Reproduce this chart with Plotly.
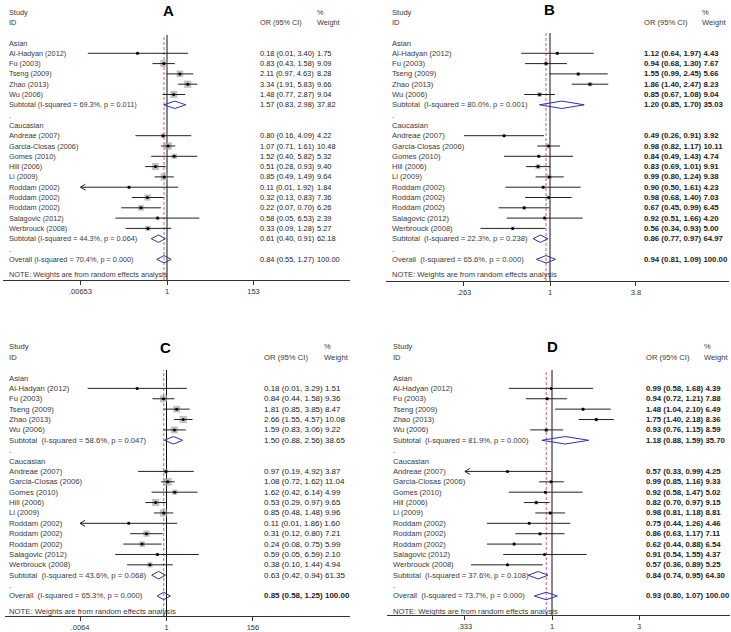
import math
import plotly.graph_objects as go

W, H = 731, 632

# ---------------- data ----------------
study_names = ["Al-Hadyan (2012)", "Fu (2003)", "Tseng (2009)", "Zhao (2013)", "Wu (2006)",
               "Andreae (2007)", "Garcia-Closas (2006)", "Gomes (2010)", "Hill (2006)", "Li (2009)",
               "Roddam (2002)", "Roddam (2002)", "Roddam (2002)", "Salagovic (2012)", "Werbrouck (2008)"]
group_names = ["Asian", "Caucasian"]
n_asian = 5

# Panel A
A_or = [0.18, 0.83, 2.11, 3.34, 1.48, 0.80, 1.07, 1.52, 0.51, 0.85, 0.11, 0.32, 0.22, 0.58, 0.33]
A_lo = [0.01, 0.43, 0.97, 1.91, 0.77, 0.16, 0.71, 0.40, 0.28, 0.49, 0.006, 0.13, 0.07, 0.05, 0.09]
A_hi = [3.40, 1.58, 4.63, 5.83, 2.87, 4.09, 1.61, 5.82, 0.93, 1.49, 1.92, 0.83, 0.70, 6.53, 1.28]
A_wt = [1.75, 9.09, 8.28, 9.66, 9.04, 4.22, 10.48, 5.32, 9.40, 9.64, 1.84, 7.36, 6.26, 2.39, 5.27]
A_sum_or = [1.57, 0.61, 0.84]
A_sum_lo = [0.83, 0.40, 0.55]
A_sum_hi = [2.98, 0.91, 1.27]
A_sum_wt = [37.82, 62.18, 100.00]
A_i2 = [69.3, 44.3, 70.4]
A_p = [0.011, 0.064, 0.000]
A_ticks = [0.00653, 1, 153]
A_ticktext = [".00653", "1", "153"]

# Panel B
B_or = [1.12, 0.94, 1.55, 1.86, 0.85, 0.49, 0.98, 0.84, 0.83, 0.99, 0.90, 0.98, 0.67, 0.92, 0.56]
B_lo = [0.64, 0.68, 0.99, 1.40, 0.67, 0.263, 0.82, 0.49, 0.69, 0.80, 0.50, 0.68, 0.45, 0.51, 0.34]
B_hi = [1.97, 1.30, 2.45, 2.47, 1.08, 0.91, 1.17, 1.43, 1.01, 1.24, 1.61, 1.40, 0.99, 1.66, 0.93]
B_wt = [4.43, 7.67, 5.66, 8.23, 9.04, 3.92, 10.11, 4.74, 9.91, 9.38, 4.23, 7.03, 6.45, 4.20, 5.00]
B_sum_or = [1.20, 0.86, 0.94]
B_sum_lo = [0.85, 0.77, 0.81]
B_sum_hi = [1.70, 0.97, 1.09]
B_sum_wt = [35.03, 64.97, 100.00]
B_i2 = [80.0, 22.3, 65.6]
B_p = [0.001, 0.238, 0.000]
B_ticks = [0.263, 1, 3.8]
B_ticktext = [".263", "1", "3.8"]

# Panel C
C_or = [0.18, 0.84, 1.81, 2.66, 1.59, 0.97, 1.08, 1.62, 0.53, 0.85, 0.11, 0.31, 0.24, 0.59, 0.38]
C_lo = [0.01, 0.44, 0.85, 1.55, 0.83, 0.19, 0.72, 0.42, 0.29, 0.48, 0.006, 0.12, 0.08, 0.05, 0.10]
C_hi = [3.29, 1.58, 3.85, 4.57, 3.06, 4.92, 1.62, 6.14, 0.97, 1.48, 1.86, 0.80, 0.75, 6.59, 1.44]
C_wt = [1.51, 9.36, 8.47, 10.08, 9.22, 3.87, 11.04, 4.99, 9.65, 9.96, 1.60, 7.21, 5.99, 2.10, 4.94]
C_sum_or = [1.50, 0.63, 0.85]
C_sum_lo = [0.88, 0.42, 0.58]
C_sum_hi = [2.56, 0.94, 1.25]
C_sum_wt = [38.65, 61.35, 100.00]
C_i2 = [58.6, 43.6, 65.3]
C_p = [0.047, 0.068, 0.000]
C_ticks = [0.0064, 1, 156]
C_ticktext = [".0064", "1", "156"]

# Panel D
D_or = [0.99, 0.94, 1.48, 1.75, 0.93, 0.57, 0.99, 0.92, 0.82, 0.98, 0.75, 0.86, 0.62, 0.91, 0.57]
D_lo = [0.58, 0.72, 1.04, 1.40, 0.76, 0.33, 0.85, 0.58, 0.70, 0.81, 0.44, 0.63, 0.44, 0.54, 0.36]
D_hi = [1.68, 1.21, 2.10, 2.18, 1.15, 0.99, 1.16, 1.47, 0.97, 1.18, 1.26, 1.17, 0.88, 1.55, 0.89]
D_wt = [4.39, 7.88, 6.49, 8.36, 8.59, 4.25, 9.33, 5.02, 9.15, 8.81, 4.46, 7.11, 6.54, 4.37, 5.25]
D_sum_or = [1.18, 0.84, 0.93]
D_sum_lo = [0.88, 0.74, 0.80]
D_sum_hi = [1.59, 0.95, 1.07]
D_sum_wt = [35.70, 64.30, 100.00]
D_i2 = [81.9, 37.6, 73.7]
D_p = [0.000, 0.108, 0.000]
D_ticks = [0.333, 1, 3]
D_ticktext = [".333", "1", "3"]

note_text = "NOTE: Weights are from random effects analysis"

# ---------------- layout / style constants (pixels) ----------------
panels = [
    dict(name="A", orr=A_or, lo=A_lo, hi=A_hi, wt=A_wt, s_or=A_sum_or, s_lo=A_sum_lo, s_hi=A_sum_hi,
         s_wt=A_sum_wt, i2=A_i2, p=A_p, ticks=A_ticks, ticktext=A_ticktext,
         x0=3, x1=350, cpx=167, ppd=39.6, row0=43, step=10.3, top=35, bottom=280,
         lab_x=7, val_x=258, wt_x=315, let_x=168, let_y=11, box_k=2.3,
         bold=False, sep_w=True, dsp=False, lab_fs=7.3, val_fs=7.4),
    dict(name="B", orr=B_or, lo=B_lo, hi=B_hi, wt=B_wt, s_or=B_sum_or, s_lo=B_sum_lo, s_hi=B_sum_hi,
         s_wt=B_sum_wt, i2=B_i2, p=B_p, ticks=B_ticks, ticktext=B_ticktext,
         x0=386, x1=729, cpx=550, ppd=148.3, row0=43, step=10.3, top=33, bottom=281,
         lab_x=390, val_x=642, wt_x=700, let_x=549, let_y=10, box_k=1.6,
         bold=True, sep_w=False, dsp=True, lab_fs=7.6, val_fs=7.8),
    dict(name="C", orr=C_or, lo=C_lo, hi=C_hi, wt=C_wt, s_or=C_sum_or, s_lo=C_sum_lo, s_hi=C_sum_hi,
         s_wt=C_sum_wt, i2=C_i2, p=C_p, ticks=C_ticks, ticktext=C_ticktext,
         x0=5, x1=350, cpx=166.5, ppd=39.4, row0=378, step=10.38, top=370, bottom=616,
         lab_x=7, val_x=262, wt_x=322, let_x=165, let_y=347, box_k=2.3,
         bold=False, sep_w=False, dsp=True, lab_fs=7.7, val_fs=8.0),
    dict(name="D", orr=D_or, lo=D_lo, hi=D_hi, wt=D_wt, s_or=D_sum_or, s_lo=D_sum_lo, s_hi=D_sum_hi,
         s_wt=D_sum_wt, i2=D_i2, p=D_p, ticks=D_ticks, ticktext=D_ticktext,
         x0=387, x1=730, cpx=552, ppd=182.4, row0=378, step=10.38, top=370, bottom=615,
         lab_x=391, val_x=644, wt_x=702, let_x=552, let_y=346, box_k=1.3,
         bold=True, sep_w=False, dsp=True, lab_fs=7.6, val_fs=7.8),
]

FONT = "Liberation Sans, Arial, sans-serif"
LAB_COL = "#3a3a3a"
VAL_COL = "#222222"
CI_COL = "#222222"
BOX_COL = "#a6a6a6"
DIA_COL = "#3030b0"
RED_COL = "#d0607a"

# row indices
study_rows = list(range(1, 1 + n_asian)) + list(range(9, 9 + len(study_names) - n_asian))
header_rows = [0, 8]
sum_rows = [6, 19, 21]
dot_rows = [7, 20]

fig = go.Figure()
annotations = []
shapes = []
layout_axes = {}

for i, P in enumerate(panels):
    sfx = "" if i == 0 else str(i + 1)
    xa, ya = "x" + sfx, "y" + sfx
    ppd, cpx = P["ppd"], P["cpx"]
    xr = [(P["x0"] - cpx) / ppd, (P["x1"] - cpx) / ppd]
    yr = [(P["bottom"] - P["row0"]) / P["step"], (P["top"] - P["row0"]) / P["step"]]
    layout_axes["xaxis" + sfx] = dict(
        type="log", range=xr, domain=[P["x0"] / W, P["x1"] / W], anchor=ya,
        showline=True, linecolor="#333", linewidth=1, ticks="outside", ticklen=4,
        tickcolor="#333", tickvals=P["ticks"], ticktext=P["ticktext"],
        tickfont=dict(family=FONT, size=7.5, color="#333"), showgrid=False, zeroline=False,
        fixedrange=True)
    layout_axes["yaxis" + sfx] = dict(
        range=yr, domain=[1 - P["bottom"] / H, 1 - P["top"] / H], anchor=xa,
        visible=False, fixedrange=True)

    tmin, tmax = P["ticks"][0], P["ticks"][-1]
    lmin = math.log10(tmin)
    arm = 5.0 / ppd
    hh = 3.0 / P["step"]

    # boxes
    fig.add_trace(go.Scatter(
        x=P["orr"], y=study_rows, mode="markers", xaxis=xa, yaxis=ya, hoverinfo="skip",
        marker=dict(symbol="square", size=[P["box_k"] * math.sqrt(w) for w in P["wt"]],
                    color=BOX_COL, line=dict(width=0)), showlegend=False))
    # CI lines
    lx, ly = [], []
    for o, lo, hi, r in zip(P["orr"], P["lo"], P["hi"], study_rows):
        lo_d = max(lo, tmin)
        hi_d = min(hi, tmax)
        lx += [lo_d, hi_d, None]
        ly += [r, r, None]
        if lo < tmin:
            a = 10 ** (lmin + arm)
            lx += [a, tmin, a, None]
            ly += [r - hh, r, r + hh, None]
    fig.add_trace(go.Scatter(x=lx, y=ly, mode="lines", xaxis=xa, yaxis=ya, hoverinfo="skip",
                             line=dict(color=CI_COL, width=1), showlegend=False))
    # point dots
    fig.add_trace(go.Scatter(
        x=P["orr"], y=study_rows, mode="markers", xaxis=xa, yaxis=ya, hoverinfo="skip",
        marker=dict(symbol="circle", size=3, color="black"), showlegend=False))
    # diamonds
    dx, dy = [], []
    for o, lo, hi, r in zip(P["s_or"], P["s_lo"], P["s_hi"], sum_rows):
        dx += [lo, o, hi, o, lo, None]
        dy += [r, r - 0.36, r, r + 0.36, r, None]
    fig.add_trace(go.Scatter(x=dx, y=dy, mode="lines", xaxis=xa, yaxis=ya, hoverinfo="skip",
                             line=dict(color=DIA_COL, width=1), showlegend=False))

    # vertical lines
    shapes.append(dict(type="line", xref=xa, yref=ya + " domain", x0=1, x1=1, y0=0, y1=1,
                       line=dict(color="#111", width=1), layer="below"))
    shapes.append(dict(type="line", xref=xa, yref=ya + " domain", x0=P["s_or"][2], x1=P["s_or"][2],
                       y0=0, y1=1, line=dict(color=RED_COL, width=1, dash="3px,2px"), layer="below"))

    def lab(text, px, row, size, color=LAB_COL, bold=False, P=P):
        t = "<b>" + text + "</b>" if bold else text
        py = P["row0"] + P["step"] * row
        annotations.append(dict(text=t, x=px / W, xref="paper", y=1 - py / H, yref="paper",
                                xanchor="left", yanchor="middle", showarrow=False,
                                font=dict(family=FONT, size=size, color=color)))

    lf, vf = P["lab_fs"], P["val_fs"]
    # headers
    lab("Study", P["lab_x"], -3, lf)
    lab("ID", P["lab_x"], -2, lf)
    lab("OR (95% CI)", P["val_x"], -2, lf)
    lab("%", P["wt_x"], -3, lf)
    lab("Weight", P["wt_x"], -2, lf)
    # letter
    annotations.append(dict(text="<b>" + P["name"] + "</b>", x=P["let_x"] / W, xref="paper",
                            y=1 - P["let_y"] / H, yref="paper", xanchor="center", yanchor="middle",
                            showarrow=False, font=dict(family=FONT, size=15, color="black")))
    # group headers and dots
    for g, r in zip(group_names, header_rows):
        lab(g, P["lab_x"], r, lf)
    for r in dot_rows:
        lab(".", P["lab_x"], r, lf)
    # study rows
    for name, o, lo, hi, w, r in zip(study_names, P["orr"], P["lo"], P["hi"], P["wt"], study_rows):
        lab(name, P["lab_x"], r, lf)
        ci = f"{o:.2f} ({lo:.2f}, {hi:.2f})"
        if P["sep_w"]:
            lab(ci, P["val_x"], r, vf, VAL_COL)
            lab(f"{w:.2f}", P["wt_x"], r, vf, VAL_COL)
        else:
            lab(f"{ci} {w:.2f}", P["val_x"], r, vf, VAL_COL, P["bold"])
    # summary rows
    sp = "\u00a0 " if P["dsp"] else " "
    sum_titles = ["Subtotal", "Subtotal", "Overall"]
    for k, (t, o, lo, hi, w, i2, p, r) in enumerate(zip(sum_titles, P["s_or"], P["s_lo"], P["s_hi"],
                                                        P["s_wt"], P["i2"], P["p"], sum_rows)):
        lab(f"{t}{sp}(I-squared = {i2:.1f}%, p = {p:.3f})", P["lab_x"], r, lf)
        ci = f"{o:.2f} ({lo:.2f}, {hi:.2f})"
        is_bold = P["bold"] or (k == 2 and P["name"] == "C")
        if P["sep_w"]:
            lab(ci, P["val_x"], r, vf, VAL_COL)
            lab(f"{w:.2f}", P["wt_x"], r, vf, VAL_COL)
        else:
            lab(f"{ci} {w:.2f}", P["val_x"], r, vf, VAL_COL, is_bold)
    # note
    lab(note_text, P["lab_x"], 22.5, lf)

fig.update_layout(
    width=W, height=H, autosize=False,
    margin=dict(l=0, r=0, t=0, b=0),
    paper_bgcolor="white", plot_bgcolor="white",
    showlegend=False, annotations=annotations, shapes=shapes, **layout_axes)

fig.write_html("out.html", config={"displayModeBar": False},
               post_script="document.body.style.margin='0';document.body.style.overflow='hidden';")
